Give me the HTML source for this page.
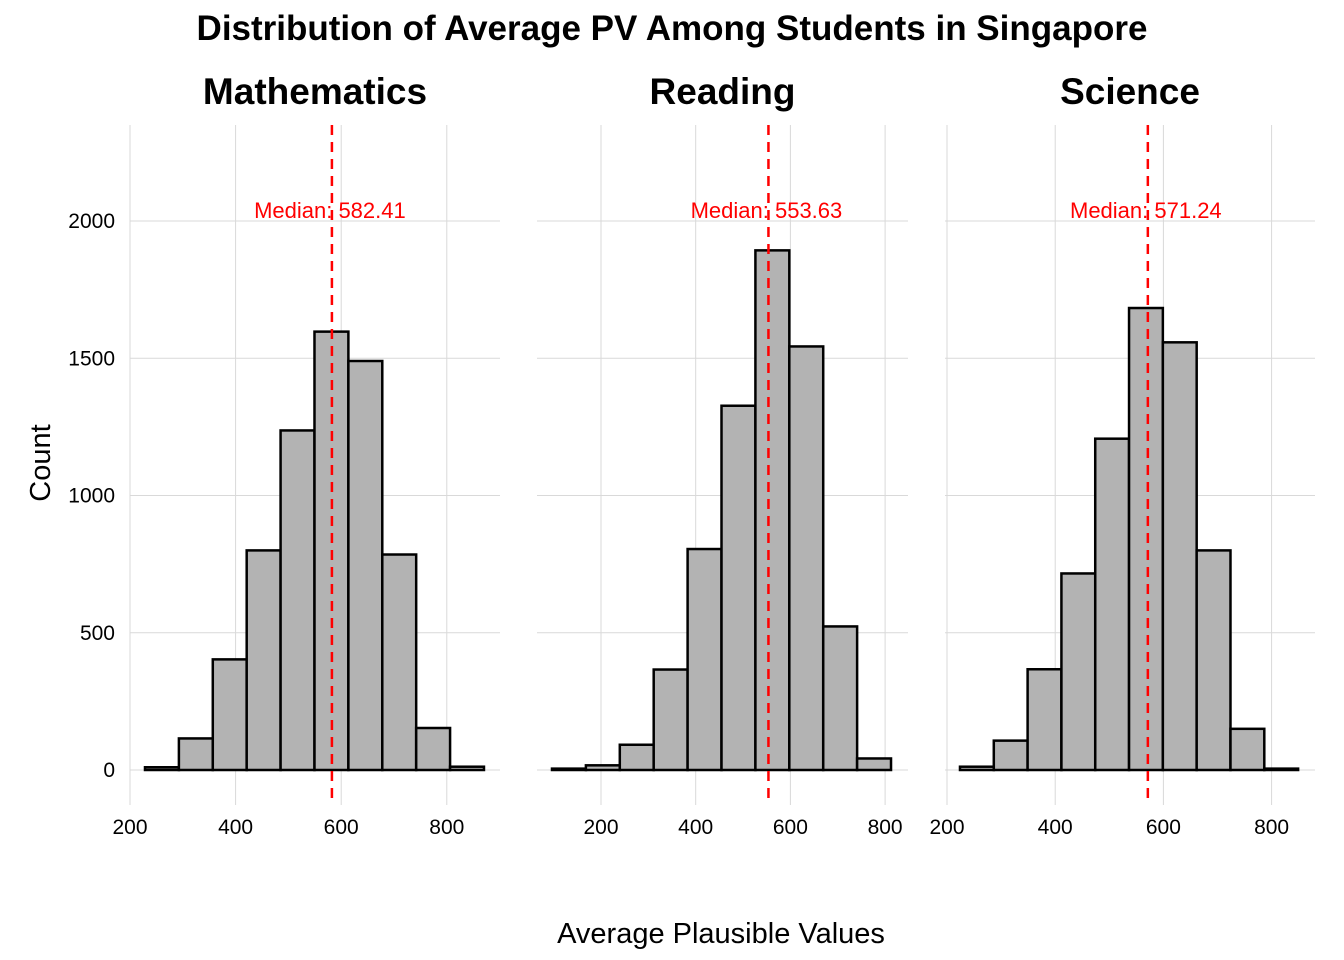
<!DOCTYPE html>
<html><head><meta charset="utf-8"><style>
html,body{margin:0;padding:0;background:#fff;}
svg{display:block;font-family:"Liberation Sans",Arial,sans-serif;}
</style></head><body>
<svg id="chart" width="1344" height="960" viewBox="0 0 1344 960" xmlns="http://www.w3.org/2000/svg">
<text x="672" y="40" text-anchor="middle" font-size="35" font-weight="bold">Distribution of Average PV Among Students in Singapore</text>
<text x="721" y="943" text-anchor="middle" font-size="29">Average Plausible Values</text>
<text transform="translate(50,463) rotate(-90)" text-anchor="middle" font-size="29">Count</text>
</svg>
<script>
const subjects = ["Mathematics","Reading","Science"];
const medians = [582.41, 553.63, 571.24];
const binStarts = [228.4, 96.5, 224];
const binWidths = [64.2, 71.6, 62.5];
const mathCounts = [10,115,403,800,1237,1597,1490,785,153,12];
const readingCounts = [5,17,92,366,805,1327,1893,1543,523,42];
const scienceCounts = [12,107,367,716,1207,1683,1558,800,150,5];
const xTicks = [200,400,600,800];
const yTicks = [0,500,1000,1500,2000];

const allCounts = [mathCounts, readingCounts, scienceCounts];
const panels = [
  {left:130,right:500,x200:130,k:0.528},
  {left:537,right:908,x200:601,k:0.4735},
  {left:945,right:1315,x200:947,k:0.541}
];
const svgEl = document.getElementById('chart');
const NS = "http://www.w3.org/2000/svg";
function mk(tag, attrs, parent){
  const e = document.createElementNS(NS, tag);
  for (const k in attrs) e.setAttribute(k, attrs[k]);
  (parent||svgEl).appendChild(e);
  return e;
}
const yPix = v => 770 - v*0.2745;
const plotTop = 125, plotBottom = 805;

panels.forEach((p, i) => {
  const xPix = v => p.x200 + (v-200)*p.k;
  const g = mk('g', {});
  
  
  yTicks.forEach(t => {
    const l = mk('line', {x1:p.left, x2:p.right, y1:yPix(t), y2:yPix(t), stroke:'#d9d9d9', 'stroke-width':1}, g);
    
    
  });
  xTicks.forEach(t => {
    const x = xPix(t);
    const l = mk('line', {x1:x, x2:x, y1:plotTop, y2:plotBottom, stroke:'#d9d9d9', 'stroke-width':1}, g);
    
    
    const tx = mk('text', {x:x, y:834, 'text-anchor':'middle', 'font-size':21, fill:'#000'}, g);
    tx.textContent = t;
    
    
  });
  if (i === 0) {
    yTicks.forEach(t => {
      const tx = mk('text', {x:115, y:yPix(t)+7, 'text-anchor':'end', 'font-size':21}, g);
      tx.textContent = t;
      
      
    });
  }
  const st = mk('text', {x:(p.left+p.right)/2, y:104, 'text-anchor':'middle', 'font-size':37, 'font-weight':'bold'}, g);
  st.textContent = subjects[i];
  
  
  allCounts[i].forEach((c, j) => {
    const x0 = xPix(binStarts[i] + j*binWidths[i]);
    const x1 = xPix(binStarts[i] + (j+1)*binWidths[i]);
    const r = mk('rect', {x:x0, y:yPix(c), width:x1-x0, height:yPix(0)-yPix(c), fill:'#b3b3b3', stroke:'#000', 'stroke-width':2.5}, g);
    
    
  });
  const mx = xPix(medians[i]);
  const ml = mk('line', {x1:mx, x2:mx, y1:plotTop, y2:plotBottom, stroke:'#ff0000', 'stroke-width':2.5, 'stroke-dasharray':'10,7'}, g);
  
  
  const mt = mk('text', {x:mx-2, y:218, 'text-anchor':'middle', 'font-size':22, fill:'#ff0000'}, g);
  mt.textContent = 'Median: ' + medians[i].toFixed(2);
  
  
});
</script>
</body></html>
